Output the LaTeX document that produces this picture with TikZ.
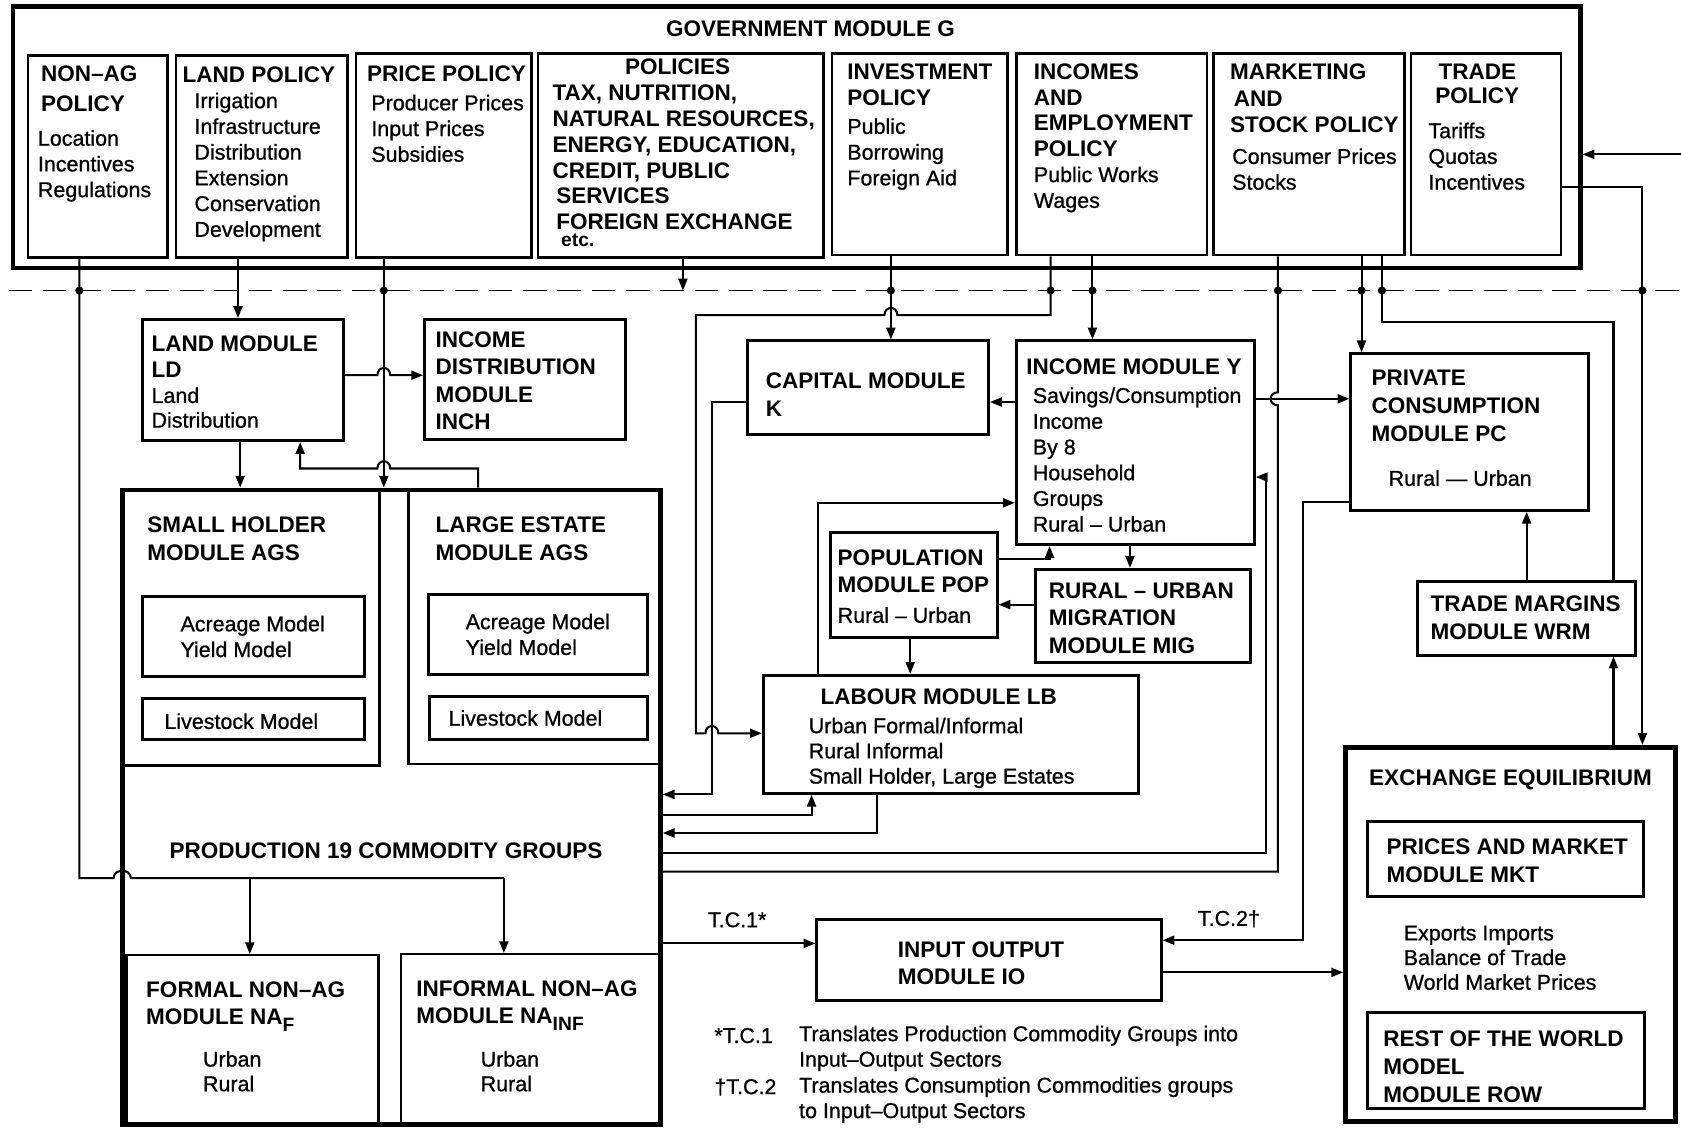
\documentclass[tikz,border=0pt]{standalone}
\usepackage{fontspec}
\setmainfont{Liberation Sans}
\newfontfamily\bodyfam[FakeBold=0.8]{Liberation Sans}
\usetikzlibrary{arrows.meta,fit}
\tikzset{
  pbox/.style={draw, line width=1.2pt, inner sep=0pt},
  mbox/.style={draw, line width=1.4pt, inner sep=0pt},
  bbox/.style={draw, line width=2.2pt, inner sep=0pt},
  ibox/.style={draw, line width=1pt, inner sep=0pt},
  hd/.style={font={\fontsize{10.5}{#1}\selectfont\bfseries}, align=left, anchor=north west, inner sep=0pt},
  hd/.default=12,
  bd/.style={font={\fontsize{10}{#1}\selectfont\bodyfam}, align=left, anchor=north west, inner sep=0pt},
  bd/.default=12,
  conn/.style={line width=0.95pt, line join=miter},
  arr/.style={conn, -{Triangle[length=5.5pt,width=4.2pt]}},
  dline/.style={line width=0.8pt, dash pattern=on 11pt off 5pt},
}
\begin{document}
\begin{tikzpicture}[x=0.5pt,y=-0.5pt]
\useasboundingbox (0,0) rectangle (1568,1052);
\fill[white] (0,0) rectangle (1568,1052);

% ---------- Government module ----------
\node[bbox, fit={(12,6) (1474,250)}] (gov) {};
\node[pbox, fit={(26,52) (156,240)}] (nonag) {};
\node[pbox, fit={(164,52) (324,240)}] (landp) {};
\node[pbox, fit={(332,50) (496,240)}] (pricep) {};
\node[pbox, fit={(502,50) (768,240)}] (policies) {};
\node[pbox, fit={(776,50) (940,238)}] (invest) {};
\node[pbox, fit={(948,50) (1126,238)}] (incomes) {};
\node[pbox, fit={(1132,50) (1310,238)}] (market) {};
\node[pbox, fit={(1316,50) (1456,238)}] (trade) {};

% ---------- modules ----------
\node[mbox, fit={(133,298) (320,411)}] (land) {};
\node[mbox, fit={(396,298) (583,410)}] (inch) {};
\node[mbox, fit={(697,318) (922,405)}] (capital) {};
\node[mbox, fit={(948,318) (1170,508)}] (incy) {};
\node[mbox, fit={(775,497) (930,595)}] (pop) {};
\node[mbox, fit={(966,531) (1166,618)}] (mig) {};
\node[mbox, fit={(712,630) (1062,740)}] (labour) {};
\node[mbox, fit={(1260,330) (1482,476)}] (pc) {};
\node[mbox, fit={(1322,542) (1526,611)}] (wrm) {};
\node[mbox, fit={(762,858) (1083,933)}] (io) {};

\node[ibox, fit={(114,457) (354,714)}] (small) {};
\node[ibox, fit={(381,457) (616,713)}] (large) {};
\node[mbox, fit={(133,556) (340,631)}] (acrs) {};
\node[mbox, fit={(133,652) (340,690)}] (lives) {};
\node[mbox, fit={(400,555) (604,629)}] (acrl) {};
\node[mbox, fit={(401,650) (604,690)}] (livel) {};
\node[ibox, fit={(118,891) (353,1049)}] (formal) {};
\node[ibox, fit={(374,890) (616,1049)}] (informal) {};
\node[bbox, fit={(114,457) (616,1049)}] (prod) {};

\node[bbox, fit={(1255,697) (1563,1046)}] (exch) {};
\node[mbox, fit={(1276,766) (1533,836)}] (mkt) {};
\node[mbox, fit={(1276,944) (1534,1034)}] (row) {};

% ---------- dashed line and junctions ----------
\coordinate (j1) at (74,271);
\coordinate (j2) at (358,271);
\coordinate (j3) at (637,271);
\coordinate (j4) at (831,271);
\coordinate (j5) at (980,271);
\coordinate (j6) at (1019,271);
\coordinate (j7) at (1192,271);
\coordinate (j8) at (1270,271);
\coordinate (j9) at (1289,271);
\coordinate (j10) at (1532,271);
\coordinate (dl) at (8,271);
\coordinate (dr) at (1568,271);
\coordinate (govin) at (1568,144);
\draw[dline] (dl) -- (dr);

% ---------- connectors from government ----------
\draw[conn] (j1 |- nonag.south) -- (74,819) -- (106,819) .. controls (106,810) and (122,810) .. (122,819) -- (470,819);
\draw[arr] (470,819) -- (470,0 |- informal.north);
\draw[arr] (233,819) -- (233,0 |- formal.north);
\draw[arr] (222,0 |- landp.south) -- (222,0 |- land.north);
\draw[arr] (j2 |- pricep.south) -- (j2 |- prod.north);
\draw[arr] (j3 |- policies.south) -- (j3);
\draw[arr] (j4 |- invest.south) -- (j4 |- capital.north);
\draw[arr] (j5 |- incomes.south) -- (980,294) -- (837,294) .. controls (837,285) and (825,285) .. (825,294) -- (649,294) -- (649,684) -- (658,684) .. controls (658,675) and (670,675) .. (670,684) -- (labour.west |- 0,684);
\draw[arr] (j6 |- incomes.south) -- (j6 |- incy.north);
\draw[conn] (j7 |- market.south) -- (1192,366) .. controls (1183,366) and (1183,378) .. (1192,378) -- (1192,813) -- (prod.east |- 0,813);
\draw[arr] (j8 |- market.south) -- (j8 |- pc.north);
\draw[conn] (j9 |- market.south) -- (1289,300) -- (1505,300) -- (1505,0 |- wrm.north);
\draw[arr] (trade.east |- 0,174) -- (1532,174) -- (j10 |- exch.north);
\draw[arr] (govin) -- (gov.east |- govin);
\foreach \j in {j1,j2,j4,j5,j6,j7,j8,j9,j10} \fill (\j) circle (1.9pt);

% ---------- other connectors ----------
\draw[arr] (land.east |- 0,350) -- (352,350) .. controls (352,341) and (364,341) .. (364,350) -- (inch.west |- 0,350);
\draw[arr] (224,0 |- land.south) -- (224,0 |- prod.north);
\draw[arr] (446,0 |- prod.north) -- (446,437) -- (364,437) .. controls (364,428) and (352,428) .. (352,437) -- (280,437) -- (280,0 |- land.south);
\draw[arr] (incy.west |- 0,375) -- (capital.east |- 0,375);
\draw[arr] (capital.west |- 0,375) -- (664,375) -- (664,741) -- (prod.east |- 0,741);
\draw[arr] (763,0 |- labour.north) -- (763,469) -- (incy.west |- 0,469);
\draw[arr] (pop.east |- 0,521) -- (979,521) -- (979,0 |- incy.south);
\draw[arr] (1054,0 |- incy.south) -- (1054,0 |- mig.north);
\draw[arr] (mig.west |- 0,564) -- (pop.east |- 0,564);
\draw[arr] (849,0 |- pop.south) -- (849,0 |- labour.north);
\draw[arr] (prod.east |- 0,760) -- (757,760) -- (757,0 |- labour.south);
\draw[arr] (818,0 |- labour.south) -- (818,777) -- (prod.east |- 0,777);
\draw[arr] (prod.east |- 0,796) -- (1181,796) -- (1181,445) -- (incy.east |- 0,445);
\draw[arr] (incy.east |- 0,372) -- (pc.west |- 0,372);
\draw[arr] (pc.west |- 0,468) -- (1215,468) -- (1215,877) -- (io.east |- 0,877);
\draw[arr] (prod.east |- 0,880) -- (io.west |- 0,880);
\draw[arr] (io.east |- 0,907) -- (exch.west |- 0,907);
\draw[arr] (1424,0 |- wrm.north) -- (1424,0 |- pc.south);
\draw[arr] (1505,0 |- exch.north) -- (1505,0 |- wrm.south);

% ---------- texts: government ----------
\node[hd, anchor=center] (tgov) at (756,27) {GOVERNMENT MODULE G};
\node[hd=14] (tnonag) at (38,61) {NON–AG\\POLICY};
\node[bd] (bnonag) at (35,121) {Location\\Incentives\\Regulations};
\node[hd] (tlandp) at (170,62) {LAND POLICY};
\node[bd] (blandp) at (181,86) {Irrigation\\Infrastructure\\Distribution\\Extension\\Conservation\\Development};
\node[hd] (tpricep) at (342,61) {PRICE POLICY};
\node[bd] (bpricep) at (346,88) {Producer Prices\\Input Prices\\Subsidies};
\node[hd, anchor=center] (tpol) at (632,62) {POLICIES};
\node[hd] (bpol) at (515,79) {TAX, NUTRITION,\\NATURAL RESOURCES,\\ENERGY, EDUCATION,\\CREDIT, PUBLIC\\\,SERVICES\\\,FOREIGN EXCHANGE};
\node[anchor=north west, inner sep=0pt, font={\fontsize{9}{10}\selectfont\bfseries}] (tetc) at (523,218) {etc.};
\node[hd] (tinv) at (790,59) {INVESTMENT\\POLICY};
\node[bd] (binv) at (790,110) {Public\\Borrowing\\Foreign Aid};
\node[hd] (tinc) at (964,59) {INCOMES\\AND\\EMPLOYMENT\\POLICY};
\node[bd] (binc) at (964,155) {Public Works\\Wages};
\node[hd=12.5] (tmark) at (1147,59) {MARKETING\\\,AND\\STOCK POLICY};
\node[bd] (bmark) at (1149,138) {Consumer Prices\\Stocks};
\node[hd=11.5, align=center, anchor=north] (ttrade) at (1378,59) {TRADE\\POLICY};
\node[bd] (btrade) at (1332,114) {Tariffs\\Quotas\\Incentives};

% ---------- texts: modules ----------
\node[hd] (tland) at (141,313) {LAND MODULE\\LD};
\node[bd=11.5] (bland) at (141,361) {Land\\Distribution};
\node[hd=12.75] (tinch) at (406,309) {INCOME\\DISTRIBUTION\\MODULE\\INCH};
\node[hd=13] (tcap) at (714,347) {CAPITAL MODULE\\K};
\node[hd] (tincy) at (957,334) {INCOME MODULE Y};
\node[bd] (bincy) at (963,361) {Savings/Consumption\\Income\\By 8\\Household\\Groups\\Rural – Urban};
\node[hd=13] (tpop) at (781,512) {POPULATION\\MODULE POP};
\node[bd] (bpop) at (781,566) {Rural – Urban};
\node[hd=13] (tmig) at (978,543) {RURAL – URBAN\\MIGRATION\\MODULE MIG};
\node[hd] (tlab) at (765,642) {LABOUR MODULE LB};
\node[bd=11.75] (blab) at (754,669) {Urban Formal/Informal\\Rural Informal\\Small Holder, Large Estates};
\node[hd=13] (tpc) at (1279,345) {PRIVATE\\CONSUMPTION\\MODULE PC};
\node[bd, anchor=center] (bpc) at (1362,446) {Rural — Urban};
\node[hd=13] (twrm) at (1334,555) {TRADE MARGINS\\MODULE WRM};

\node[hd=13] (tsmall) at (137,482) {SMALL HOLDER\\MODULE AGS};
\node[hd=13] (tlarge) at (406,482) {LARGE ESTATE\\MODULE AGS};
\node[bd] (bacrs) at (168,574) {Acreage Model\\Yield Model};
\node[bd] (bacrl) at (434,572) {Acreage Model\\Yield Model};
\node[bd] (blivs) at (153,665) {Livestock Model};
\node[bd] (blivl) at (418,662) {Livestock Model};
\node[hd, anchor=center] (tprod) at (360,794) {PRODUCTION 19 COMMODITY GROUPS};
\node[hd=13] (tformal) at (136,915) {FORMAL NON–AG\\MODULE NA\raisebox{-3pt}{\fontsize{9}{9}\selectfont F}};
\node[bd=11.5] (bformal) at (189,980) {Urban\\Rural};
\node[hd=13] (tinformal) at (388,914) {INFORMAL NON–AG\\MODULE NA\raisebox{-3pt}{\fontsize{9}{9}\selectfont INF}};
\node[bd=11.5] (binformal) at (448,980) {Urban\\Rural};

\node[hd=12.5] (tio) at (837,878) {INPUT OUTPUT\\MODULE IO};
\node[bd, anchor=west] (ltc1) at (660,858) {T.C.1*};
\node[bd, anchor=west] (ltc2) at (1117,857) {T.C.2†};
\node[bd, anchor=west] (fn1a) at (666,966) {*T.C.1};
\node[bd, anchor=west] (fn1b) at (745,966) {Translates Production Commodity Groups into};
\node[bd, anchor=west] (fn1c) at (745,990) {Input–Output Sectors};
\node[bd, anchor=west] (fn2a) at (666,1014) {†T.C.2};
\node[bd, anchor=west] (fn2b) at (745,1014) {Translates Consumption Commodities groups};
\node[bd, anchor=west] (fn2c) at (745,1038) {to Input–Output Sectors};

\node[hd, anchor=center] (texch) at (1409,727) {EXCHANGE EQUILIBRIUM};
\node[hd=13] (tmkt) at (1293,782) {PRICES AND MARKET\\MODULE MKT};
\node[bd=11.5] (bexch) at (1309,863) {Exports Imports\\Balance of Trade\\World Market Prices};
\node[hd=13] (trow) at (1290,961) {REST OF THE WORLD\\MODEL\\MODULE ROW};
\end{tikzpicture}
\end{document}
